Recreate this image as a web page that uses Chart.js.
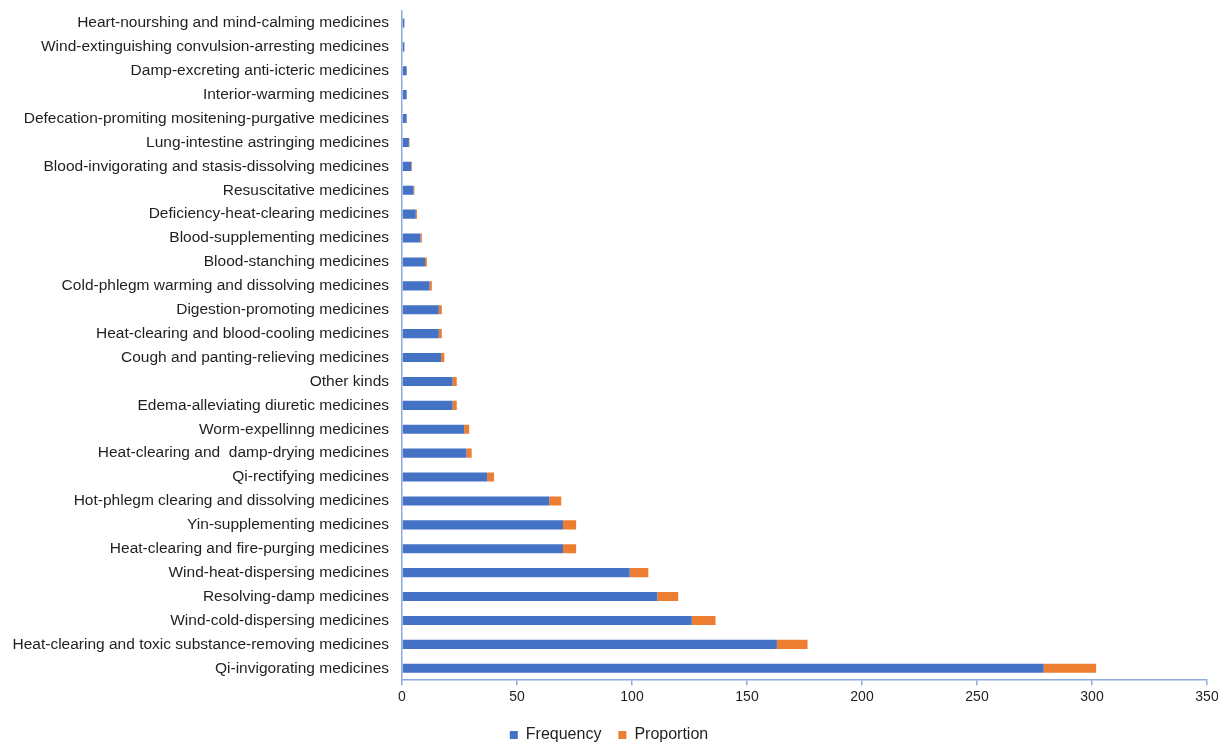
<!DOCTYPE html>
<html>
<head>
<meta charset="utf-8">
<script src="https://cdn.jsdelivr.net/npm/chart.js@4/dist/chart.umd.min.js"></script>
<style>
  html, body { margin: 0; padding: 0; background: #ffffff; }
  #wrap { width: 1218px; height: 742px; position: relative; }
</style>
</head>
<body>
<div id="wrap"><canvas id="chart"></canvas></div>
<script>
// Categories of medicines, listed top to bottom
const categories = [
  "Heart-nourshing and mind-calming medicines",
  "Wind-extinguishing convulsion-arresting medicines",
  "Damp-excreting anti-icteric medicines",
  "Interior-warming medicines",
  "Defecation-promiting mositening-purgative medicines",
  "Lung-intestine astringing medicines",
  "Blood-invigorating and stasis-dissolving medicines",
  "Resuscitative medicines",
  "Deficiency-heat-clearing medicines",
  "Blood-supplementing medicines",
  "Blood-stanching medicines",
  "Cold-phlegm warming and dissolving medicines",
  "Digestion-promoting medicines",
  "Heat-clearing and blood-cooling medicines",
  "Cough and panting-relieving medicines",
  "Other kinds",
  "Edema-alleviating diuretic medicines",
  "Worm-expellinng medicines",
  "Heat-clearing and  damp-drying medicines",
  "Qi-rectifying medicines",
  "Hot-phlegm clearing and dissolving medicines",
  "Yin-supplementing medicines",
  "Heat-clearing and fire-purging medicines",
  "Wind-heat-dispersing medicines",
  "Resolving-damp medicines",
  "Wind-cold-dispersing medicines",
  "Heat-clearing and toxic substance-removing medicines",
  "Qi-invigorating medicines"
];

// Number of uses for each category
const frequency = [
  1, 1, 2, 2, 2, 3, 4, 5, 6, 8,
  10, 12, 16, 16, 17, 22, 22, 27, 28, 37,
  64, 70, 70, 99, 111, 126, 163, 279
];

// Share of all uses, in percent
const proportion = [
  0.08, 0.08, 0.16, 0.16, 0.16, 0.25, 0.33, 0.41, 0.49, 0.65,
  0.82, 0.98, 1.31, 1.31, 1.39, 1.80, 1.80, 2.21, 2.29, 3.03,
  5.23, 5.72, 5.72, 8.09, 9.08, 10.30, 13.33, 22.81
];

// Value axis ticks
const xTicks = [0, 50, 100, 150, 200, 250, 300, 350];

const axisBlue = '#8eaadb';
const textDark = '#1f1f1f';
const sans = 'Liberation Sans, Arial, sans-serif';

new Chart(document.getElementById('chart'), {
  type: 'bar',
  data: {
    labels: categories,
    datasets: [
      {
        label: 'Frequency',
        data: frequency,
        backgroundColor: '#4472c4',
        borderWidth: 0,
        barPercentage: 0.38,
        categoryPercentage: 1.0
      },
      {
        label: 'Proportion',
        data: proportion,
        backgroundColor: '#ed7d31',
        borderWidth: 0,
        barPercentage: 0.38,
        categoryPercentage: 1.0
      }
    ]
  },
  options: {
    indexAxis: 'y',
    responsive: true,
    maintainAspectRatio: false,
    animation: false,
    layout: { padding: { top: 11, right: 0, bottom: -11, left: 0 } },
    plugins: {
      legend: {
        position: 'bottom',
        labels: {
          boxWidth: 8,
          boxHeight: 8,
          padding: 17,
          color: textDark,
          font: { family: sans, size: 16 }
        }
      },
      tooltip: { enabled: false }
    },
    scales: {
      x: {
        stacked: true,
        min: 0,
        max: 350,
        afterBuildTicks: (scale) => { scale.ticks = xTicks.map(v => ({ value: v })); },
        afterFit: (scale) => { scale.paddingRight = 11; scale.paddingLeft = 0; },
        ticks: {
          color: textDark,
          padding: 4,
          maxRotation: 0,
          font: { family: sans, size: 14 }
        },
        grid: {
          drawOnChartArea: false,
          drawTicks: true,
          tickLength: 5,
          color: axisBlue,
          lineWidth: 1.5
        },
        border: { display: true, color: axisBlue, width: 1.5 }
      },
      y: {
        stacked: true,
        afterFit: (scale) => {
          scale.width = 402;
          scale.paddingTop = 0;
          scale.paddingBottom = 0;
        },
        ticks: {
          color: textDark,
          padding: 13,
          autoSkip: false,
          font: { family: sans, size: 15.5 }
        },
        grid: { display: false, drawTicks: false },
        border: { display: true, color: axisBlue, width: 1.5 }
      }
    }
  }
});
</script>
</body>
</html>
